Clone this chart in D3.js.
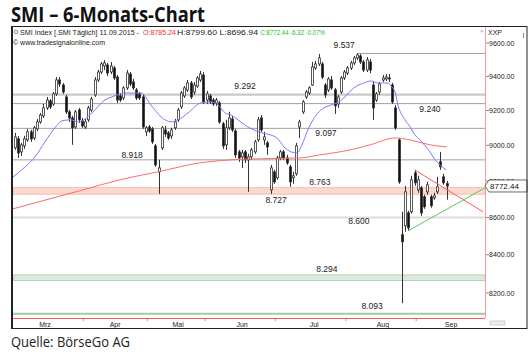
<!DOCTYPE html>
<html><head><meta charset="utf-8">
<script src="https://cdn.jsdelivr.net/npm/d3@7"></script>
<style>body{margin:0;background:#fff;}svg{display:block;font-family:"Liberation Sans",Arial,sans-serif;}</style>
</head><body><svg id="c" width="531" height="356"></svg>
<script>
// ---- DATA ----
const title = "SMI – 6-Monats-Chart";
const source = "Quelle: BörseGo AG";
const opens = [8986,9037,8963,8997,9031,9077,9042,9094,9134,9169,9215,9256,9238,9297,9379,9349,9279,9192,9157,9105,9203,9140,
 9105,9146,9203,9291,9379,9426,9462,9468,9426,9450,9396,9285,9273,9332,9414,9367,9320,9297,9279,9077,
 9105,9094,8997,8851,8986,9088,9071,9054,9100,9146,9221,9285,9320,9361,9308,9343,9379,9408,
 9261,9285,9261,9244,9244,9123,9003,9100,9151,9082,8963,8935,8963,8918,8935,8963,9031,9157,9031,9014,8751,8851,
 8818,8929,8963,8929,8879,8818,8840,9105,9192,9279,9302,9349,9450,9474,9474,9349,9320,9379,9320,9238,9308,9391,
 9420,9450,9480,9510,9522,9486,9438,9486,9349,9261,9308,9379,9385,9391,9349,9215,9031,8507,8555,8625,8631,8845,
 8751,8762,8713,8740,8713,8707,8740,8907,8823,8785.24];
const highs = [9071,9054,9014,9054,9094,9088,9111,9151,9186,9238,9279,9267,9308,9396,9396,9361,9291,9203,9169,9203,9215,9157,
 9151,9227,9279,9396,9438,9486,9498,9480,9486,9462,9408,9302,9343,9438,9426,9385,9332,9308,9291,9111,
 9117,9105,9008,8918,9111,9111,9082,9100,9151,9215,9314,9343,9379,9373,9367,9402,9432,9426,
 9314,9297,9273,9273,9256,9134,9146,9192,9169,9094,8974,8974,8974,8952,8986,9031,9163,9174,9077,9025,8890,8862,
 8940,8974,8974,8946,8890,8851,9014,9146,9261,9320,9343,9486,9492,9534,9486,9361,9396,9402,9332,9291,9402,9438,
 9462,9492,9522,9537,9534,9498,9516,9504,9367,9308,9367,9408,9414,9414,9361,9232,9042,8631,8773,8636,8829,8862,
 8829,8773,8724,8795,8724,8735,8823,8963,8840,8799.60];
const lows = [8974,8929,8940,8980,9020,9020,9031,9082,9123,9157,9203,9209,9227,9285,9338,9297,9180,9134,9003,9094,9128,9100,
 9094,9134,9192,9279,9367,9414,9438,9402,9414,9379,9244,9250,9261,9320,9343,9320,9261,9261,9094,9054,
 9071,9008,8879,8729,8974,9048,9031,9037,9088,9134,9209,9273,9308,9267,9291,9332,9367,9238,
 9238,9238,9227,9227,9123,8980,8974,9088,9077,8929,8907,8873,8901,8740,8918,8952,9020,9077,9003,8946,8729,8784,
 8807,8918,8918,8890,8768,8784,8829,9042,9180,9267,9291,9343,9438,9462,9385,9273,9308,9320,9180,9215,9297,9379,
 9408,9438,9468,9498,9474,9426,9426,9420,9146,9250,9291,9367,9373,9367,9238,9088,8784,8147,8523,8528,8620,8773,
 8735,8609,8647,8724,8653,8696,8729,8862,8779,8696.94];
const closes = [9048,8957,9003,9037,9077,9037,9100,9134,9174,9215,9261,9221,9297,9379,9355,9308,9192,9157,9100,9192,9146,9111,
 9134,9215,9267,9379,9426,9474,9480,9420,9462,9391,9261,9261,9332,9420,9355,9332,9273,9273,9105,9100,
 9082,9020,8890,8873,9100,9065,9042,9088,9134,9203,9302,9332,9361,9279,9349,9391,9414,9250,
 9297,9250,9238,9261,9134,8997,9100,9157,9088,8946,8929,8957,8918,8935,8974,9020,9146,9088,9048,8991,8873,8795,
 8929,8963,8929,8901,8795,8829,8997,9134,9250,9308,9332,9456,9474,9510,9396,9291,9385,9332,9227,9279,9391,9426,
 9450,9480,9510,9528,9486,9438,9498,9438,9215,9297,9355,9391,9396,9385,9250,9100,8795,8469,8740,8544,8807,8790,
 8807,8625,8658,8779,8664,8718,8768,8879,8790,8772.44];
// moving averages: [day index, value]
const maFast = [[-0.5,8823],[3.3,8879],[6.4,8935],[9.5,9020],[12.6,9100],[14.8,9140],[17.3,9146],[20.1,9134],[24.2,9186],
 [28.2,9261],[30.4,9279],[34.5,9302],[39.5,9302],[42.6,9232],[45.8,9163],[48.9,9134],[51.1,9146],[54.2,9186],[58.2,9244],
 [61.4,9250],[63.6,9232],[65.8,9186],[67.6,9174],[69.8,9146],[72.9,9105],[74.8,9088],[77.3,9071],[80.1,9059],[82,9042],
 [84.2,8991],[86.4,8963],[88.3,8957],[89.8,9003],[91.4,9077],[93.6,9157],[95.7,9203],[98.9,9232],[100.8,9244],[102.9,9273],
 [106,9332],[109.2,9361],[111.4,9373],[113.6,9361],[116.7,9361],[117.6,9343],[118.9,9308],[119.8,9232],[122,9146],
 [123.6,9105],[125.1,9059],[126.7,9031],[128.3,8997],[129.8,8963],[131.4,8918],[133.3,8884],[134.9,8862]];
const maSlow = [[-0.5,8647],[11.1,8702],[20.4,8746],[32.9,8807],[44.8,8851],[57.9,8901],[67.3,8918],[76.7,8924],
 [89.2,8929],[95.4,8946],[104.8,8974],[111.1,9003],[118.9,9042],[123.6,9031],[129.8,9003],[135.1,8991]];
const trendDown = [[125,8862],[146.4,8631]];
const trendUp = [[123,8528],[147,8762]];
const levels = [9292,9240,9097,8918];
const level9537 = {from:107, value:9537};
const bandPink = [8763,8727];
const level8600 = 8600;
const bandGreen = [8294,8265];
const level8093 = 8093;
const levelLabels = ["9.537","9.292","9.240","9.097","8.918","8.763","8.727","8.600","8.294","8.093"];
const levelLabelVals = [9537,9292,9240,9097,8918,8763,8727,8600,8294,8093];
const levelLabelDays = [103,72,129.8,97.3,36.7,95.4,81.7,107.6,97.6,111.7];
const axisTicks = [8200,8400,8600,8800,9000,9200,9400,9600];
const months = ["Mrz","Apr","Mai","Jun","Jul","Aug","Sep"];
const monthCenters = [9.5,31.4,51.1,71.1,93.6,115.1,136.4];
const monthBounds = [21.5,41.5,59.5,81.5,103.5,125.5];
const lastPrice = 8772.44;
const header = {name:"SMI Index [.SMI  Täglich] 11.09.2015 -", o:"O:8785.24", hl:"H:8799.60 L:8696.94", c:"C:8772.44 -6.32 -0.07%"};

// ---- DRAW ----
const svg = d3.select('#c');
const P = {l:13, r:485, t:27, b:318};
const FR = 527; // frame right edge
const x = d3.scaleLinear().domain([-0.5,147]).range([P.l,P.r]);
const y = d3.scaleLog().domain([8200,9600]).range([293,43]);

svg.append('text').attr('x',11).attr('y',22).text(title)
  .attr('font-family','"Open Sans",sans-serif').attr('font-weight','bold').attr('font-size',21)
  .attr('textLength',194).attr('lengthAdjust','spacingAndGlyphs').attr('fill','#111');
svg.append('text').attr('x',11).attr('y',347).text(source)
  .attr('font-family','"Open Sans",sans-serif').attr('font-size',14)
  .attr('textLength',119).attr('lengthAdjust','spacingAndGlyphs').attr('fill','#222');

svg.append('defs').append('clipPath').attr('id','clip').append('rect')
  .attr('x',P.l).attr('y',P.t).attr('width',P.r-P.l).attr('height',P.b-P.t);
const g = svg.append('g').attr('clip-path','url(#clip)');

// bands and levels
g.append('rect').attr('x',P.l).attr('width',P.r-P.l).attr('y',y(bandPink[0])).attr('height',y(bandPink[1])-y(bandPink[0]))
  .attr('fill','#fcd8ce').attr('stroke','#f3b4a4').attr('stroke-width',0.8);
g.append('rect').attr('x',P.l).attr('width',P.r-P.l).attr('y',y(bandGreen[0])).attr('height',y(bandGreen[1])-y(bandGreen[0]))
  .attr('fill','#dde9dd').attr('stroke','#a9c8a9').attr('stroke-width',0.8);
g.append('line').attr('x1',P.l).attr('x2',P.r).attr('y1',y(level8093)).attr('y2',y(level8093)).attr('stroke','#a5c8a5').attr('stroke-width',2);
g.append('line').attr('x1',P.l).attr('x2',P.r).attr('y1',y(level8600)).attr('y2',y(level8600)).attr('stroke','#dcdcdc').attr('stroke-width',2);
levels.forEach((v,i)=>{
  g.append('line').attr('x1',P.l).attr('x2',P.r).attr('y1',y(v)).attr('y2',y(v))
   .attr('stroke', i===0?'#c8c8c8':'#a0a0a0').attr('stroke-width', i===0?2.2:1);
});
g.append('line').attr('x1',x(level9537.from)).attr('x2',P.r).attr('y1',y(level9537.value)).attr('y2',y(level9537.value)).attr('stroke','#a0a0a0');

// candles
const data = opens.map((o,i)=>({i,o,h:highs[i],l:lows[i],c:closes[i]}));
const cg = g.append('g');
cg.selectAll('line.w').data(data).join('line').attr('class','w')
  .attr('x1',d=>Math.round(x(d.i))+0.5).attr('x2',d=>Math.round(x(d.i))+0.5)
  .attr('y1',d=>y(d.h)).attr('y2',d=>y(d.l)).attr('stroke','#333').attr('stroke-width',1);
cg.selectAll('rect.b').data(data).join('rect').attr('class','b')
  .attr('x',d=>Math.round(x(d.i))-0.5).attr('width',2)
  .attr('y',d=>y(Math.max(d.o,d.c))).attr('height',d=>Math.max(1,Math.abs(y(d.o)-y(d.c))))
  .attr('fill',d=>d.c>=d.o?'#fff':'#111').attr('stroke','#333').attr('stroke-width',0.8);

// moving averages
const line = d3.line().x(d=>x(d[0])).y(d=>y(d[1])).curve(d3.curveMonotoneX);
g.append('path').attr('d',line(maSlow)).attr('fill','none').attr('stroke','#ff6b6b').attr('stroke-width',1);
g.append('path').attr('d',line(maFast)).attr('fill','none').attr('stroke','#7a7aff').attr('stroke-width',1);
const tl = d3.line().x(d=>x(d[0])).y(d=>y(d[1]));
g.append('path').attr('d',tl(trendDown)).attr('stroke','#ff5a5a').attr('fill','none');
g.append('path').attr('d',tl(trendUp)).attr('stroke','#5cc45c').attr('fill','none');

// level labels
const lblOff = {9537:-5,9292:-5.5,9240:8.5,9097:8,8918:-1.5,8763:-3,8727:9,8600:6.5,8294:-3,8093:-5};
levelLabels.forEach((t,i)=>{
  const v = levelLabelVals[i];
  svg.append('text').attr('x',x(levelLabelDays[i])).attr('y',y(v)+lblOff[v]).attr('text-anchor','middle')
    .attr('font-size',8.5).attr('fill','#222').text(t);
});

// header inside chart
svg.append('circle').attr('cx',16).attr('cy',32).attr('r',1.8).attr('fill','none').attr('stroke','#555').attr('stroke-width',0.7);
const hdr = (t,xx,len,col)=>svg.append('text').attr('x',xx).attr('y',35).attr('font-size',7).attr('fill',col)
  .attr('textLength',len).attr('lengthAdjust','spacingAndGlyphs').text(t);
hdr(header.name,20,119,'#222');
hdr(header.o,143,33,'#ff2a2a');
hdr(header.hl,177,81,'#222');
hdr(header.c,260.5,64.5,'#22c022');
svg.append('text').attr('x',13).attr('y',45).attr('font-size',7).attr('fill','#222')
  .attr('textLength',92).attr('lengthAdjust','spacingAndGlyphs').text('© www.tradesignalonline.com');

// right axis
svg.append('line').attr('x1',P.r+0.5).attr('x2',P.r+0.5).attr('y1',P.t).attr('y2',P.b).attr('stroke','#ff9a9a');
axisTicks.forEach(v=>{
  svg.append('line').attr('x1',P.r+1).attr('x2',P.r+4).attr('y1',y(v)).attr('y2',y(v)).attr('stroke','#888');
  svg.append('text').attr('x',P.r+4).attr('y',y(v)+2.5).attr('font-size',7).attr('fill','#222').text(d3.format('.2f')(v));
});
svg.append('text').attr('x',488).attr('y',35).attr('font-size',7).attr('fill','#222').text('XXP');
svg.append('text').attr('x',480).attr('y',33).attr('font-size',6).attr('fill','#999').text('×');
svg.append('line').attr('x1',523.5).attr('x2',523.5).attr('y1',33).attr('y2',38).attr('stroke','#888');
// price tag
const py = y(lastPrice);
svg.append('path').attr('d',`M${P.r},${py} L${P.r+4},${py-6} L${FR},${py-6} L${FR},${py+6} L${P.r+4},${py+6} Z`)
  .attr('fill','#fff').attr('stroke','#444').attr('stroke-width',0.8);
svg.append('text').attr('x',P.r+5).attr('y',py+3).attr('font-size',8).attr('fill','#111').text(d3.format('.2f')(lastPrice));

// bottom line and x axis
svg.append('line').attr('x1',P.l).attr('x2',P.r).attr('y1',P.b+0.5).attr('y2',P.b+0.5).attr('stroke','#ff5a5a').attr('stroke-width',1.2);
monthBounds.forEach(b=>svg.append('line').attr('x1',x(b)).attr('x2',x(b)).attr('y1',P.b+1).attr('y2',P.b+3).attr('stroke','#999'));
months.forEach((m,i)=>svg.append('text').attr('x',x(monthCenters[i])).attr('y',327).attr('text-anchor','middle')
  .attr('font-size',7).attr('fill','#222').text(m));
svg.append('rect').attr('x',490).attr('y',321).attr('width',15).attr('height',4).attr('fill','#eee').attr('stroke','#aaa').attr('stroke-width',0.5);

// frame
svg.append('rect').attr('x',11.5).attr('y',26.5).attr('width',FR-11.5).attr('height',302).attr('fill','none').attr('stroke','#222').attr('stroke-width',1);
svg.append('line').attr('x1',12.5).attr('x2',12.5).attr('y1',26.5).attr('y2',328.5).attr('stroke','#222').attr('stroke-width',1);
</script></body></html>
